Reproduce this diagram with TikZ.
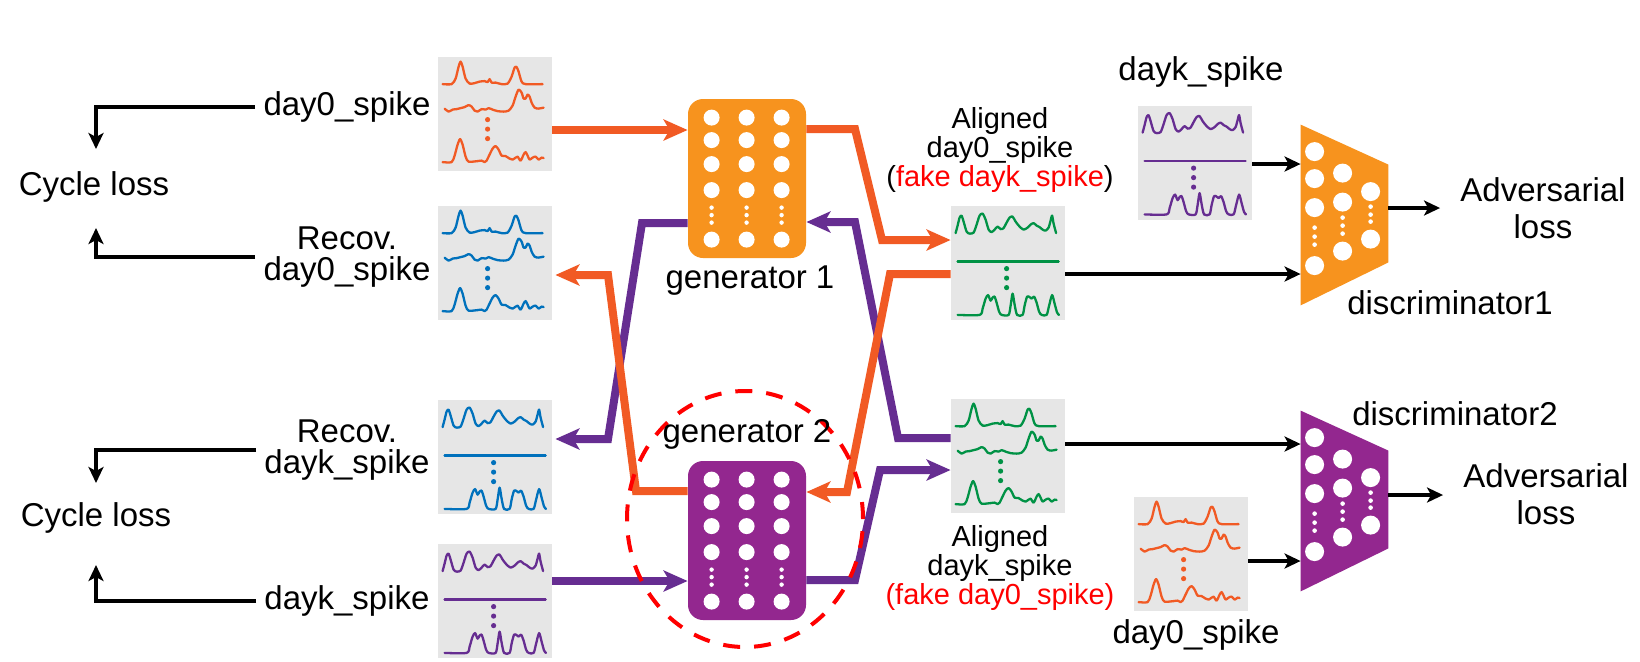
\documentclass[tikz,border=0pt]{standalone}
\usepackage{fontspec}
\setmainfont{Liberation Sans}
\usetikzlibrary{arrows.meta,calc}
\definecolor{orng}{HTML}{F15A24}
\definecolor{blu}{HTML}{0071BC}
\definecolor{purp}{HTML}{662D91}
\definecolor{grn}{HTML}{009245}
\definecolor{genor}{HTML}{F7931E}
\definecolor{genpu}{HTML}{93278F}
\definecolor{pgray}{HTML}{E6E6E6}
\definecolor{fakered}{HTML}{FF0000}
\tikzset{
  panel/.style={fill=pgray, draw=none, minimum width=57pt, minimum height=57pt, inner sep=0pt},
  genbox/.style={draw=none, minimum width=59pt, minimum height=79.5pt, inner sep=0pt, rounded corners=7.5pt},
  discbox/.style={draw=none, minimum width=43.5pt, minimum height=90pt, inner sep=0pt},
  wavestyle/.style={line width=1.15pt, line join=round, line cap=round},
  thk/.style={line width=4pt, -{Stealth[length=12pt,width=10.5pt,inset=3pt]}},
  blk/.style={line width=2pt, black, -{Stealth[length=8pt,width=7.5pt,inset=2pt]}},
  lbl/.style={font=\fontsize{16.5pt}{15.3pt}\selectfont, inner sep=0pt, align=center},
  lbls/.style={font=\fontsize{14.5pt}{14.5pt}\selectfont, inner sep=0pt, align=center},
  lbla/.style={font=\fontsize{16.5pt}{18.5pt}\selectfont, inner sep=0pt, align=center},
  reddash/.style={draw=fakered, line width=2pt, dash pattern=on 8.5pt off 7pt},
  pics/wavea/.style={code={
    \draw[wavestyle, #1] plot[smooth, tension=0.45] coordinates {(5,27.5) (14,27.5) (18,22) (21,10) (23,5) (25,10) (28,22) (32,27) (37,26.5) (42,25) (47,24.5) (50,25.5) (52,22.5) (54,26) (58,26) (64,27.5) (70,27) (74,20) (77,11) (79,10.5) (81,15) (84,25) (88,27.5) (105,27.5)};
    \draw[wavestyle, #1] plot[smooth, tension=0.45] coordinates {(7,52) (11,55) (15,53) (19,52.5) (23,51.5) (27,50.5) (31,48.5) (34,50) (37,54) (40,55) (44,52.5) (48,53) (51,51.5) (55,53) (60,54.5) (66,55) (71,54) (75,49) (78,40) (81,33) (84,36) (86,42) (88,42) (90,38) (92,40) (94,46) (97,51) (101,52) (106,51)};
    \draw[wavestyle, #1] plot[smooth, tension=0.45] coordinates {(5,105.5) (14,105.5) (17,99) (20,88) (22.5,82.5) (25,88) (28,100) (31,105) (40,104.5) (44,104) (47,105.5) (49,104) (51,100) (55,92) (58,89.5) (61,93) (64,99) (68,99.5) (72,102) (75,103) (78,101) (80,100) (83,104) (86,98) (88,95.5) (90,99) (92,103) (95,101) (98,100) (101,103) (104,101) (106,101.5)};
    \fill[#1] (50,63) circle[radius=1.3pt] (50,72.5) circle[radius=1.3pt] (50,82) circle[radius=1.3pt];
  }},
  pics/waveb/.style={code={
    \draw[wavestyle, #1] plot[smooth, tension=0.45] coordinates {(5,27.5) (7,20) (9,12) (11,10) (13,16) (16,26) (19,28) (23,27) (26,19) (29,10) (32,8) (35,14) (38,24) (41,26.5) (44,24) (47,21) (50,23.5) (53,22.5) (56,17) (59,12) (62,11) (65,16) (69,21) (73,24) (77,22) (80,19) (83,17.5) (86,20) (89,21.5) (92,24) (95,25) (98,22) (100,15) (101.5,10) (103,18) (105.5,27.5)};
    \draw[wavestyle, #1] (7,56) -- (108,56);
    \draw[wavestyle, #1] plot[smooth, tension=0.45] coordinates {(7,109.3) (29,109.3) (32,103) (35,93) (37.5,89.5) (40,95) (42,92) (44,91) (46,97) (48.5,106) (51,109.3) (58,109.3) (60,100) (62,88) (64,99) (66.5,109.3) (72,109.3) (74,100) (76.5,91) (79,91.5) (81,93) (83.5,91) (86,97) (88.5,106) (91,109.3) (96,109.3) (98.5,100) (101.5,89.5) (104,98) (106.5,107) (108.5,109.3)};
    \fill[#1] (56,63) circle[radius=1.3pt] (56,72.5) circle[radius=1.3pt] (56,82) circle[radius=1.3pt];
  }},
  pics/gendots/.style={code={
    \foreach \cx in {24,59,94} {
      \foreach \cy in {19,41.5,65.5,91.5,141} { \fill[white] (\cx,\cy) circle[radius=4pt]; }
      \foreach \cy in {109,116.5,124} { \fill[white] (\cx,\cy) circle[radius=1.1pt]; }
    }
  }},
  pics/discdots/.style={code={
    \foreach \cy in {27,54,83,141} { \fill[white] (14,\cy) circle[radius=4.75pt]; }
    \foreach \cy in {103,112,120} { \fill[white] (14,\cy) circle[radius=1.15pt]; }
    \foreach \cy in {48.5,77.5,126.5} { \fill[white] (42,\cy) circle[radius=4.75pt]; }
    \foreach \cy in {93,101,109} { \fill[white] (42,\cy) circle[radius=1.15pt]; }
    \foreach \cy in {67,114.5} { \fill[white] (70,\cy) circle[radius=4.75pt]; }
    \foreach \cy in {82,90,97} { \fill[white] (70,\cy) circle[radius=1.15pt]; }
  }}
}
\begin{document}
\begin{tikzpicture}[x=0.5pt,y=-0.5pt]
\useasboundingbox (0,0) rectangle (1640,661);
\fill[white] (0,0) rectangle (1640,661);

% panels
\node[panel] (p1) at (495,114) {};
\node[panel] (p2) at (495,263) {};
\node[panel] (p3) at (495,457) {};
\node[panel] (p4) at (495,601) {};
\node[panel] (p5) at (1008,263) {};
\node[panel] (p6) at (1008,456) {};
\node[panel] (p7) at (1195,162.5) {};
\node[panel] (p8) at (1191,554) {};
\pic at (p1.north west) {wavea=orng};
\pic at (p2.north west) {wavea=blu};
\pic at (p3.north west) {waveb=blu};
\pic at (p4.north west) {waveb=purp};
\pic at (p5.north west) {waveb=grn};
\pic at (p6.north west) {wavea=grn};
\pic at (p7.north west) {waveb=purp};
\pic at (p8.north west) {wavea=orng};

% generators
\node[genbox, fill=genor] (g1) at (747,178.5) {};
\node[genbox, fill=genpu] (g2) at (747,540.5) {};
\pic at (g1.north west) {gendots};
\pic at (g2.north west) {gendots};

% discriminators
\node[discbox] (d1) at (1344.5,215) {};
\node[discbox] (d2) at (1344.5,501) {};
\fill[genor] (d1.north west) -- ($(d1.north east)+(0,40)$) -- ($(d1.south east)+(0,-43)$) -- (d1.south west) -- cycle;
\fill[genpu] (d2.north west) -- ($(d2.north east)+(0,40)$) -- ($(d2.south east)+(0,-43)$) -- (d2.south west) -- cycle;
\pic at (d1.north west) {discdots};
\pic at (d2.north west) {discdots};

% thick connectors: purple
\draw[thk, purp] (p6.west |- 0,438) -- (898,438) -- (855,222) -- (g1.east |- 0,222);
\draw[thk, purp] (g2.east |- 0,580) -- (855,580) -- (880,470) -- (p6.west |- 0,470);
\draw[thk, purp] (g1.west |- 0,223) -- (642,223) -- (608,439) -- ([xshift=1.5pt]p3.east |- 0,439);
\draw[thk, purp] (p4.east |- 0,581) -- (g2.west |- 0,581);
% thick connectors: orange
\draw[thk, orng] (p1.east |- 0,130) -- (g1.west |- 0,130);
\draw[thk, orng] (g1.east |- 0,129) -- (855,129) -- (882,240) -- (p5.west |- 0,240);
\draw[thk, orng] (p5.west |- 0,274) -- (890,274) -- (847,492) -- (g2.east |- 0,492);
\draw[thk, orng] (g2.west |- 0,491) -- (636,491) -- (608,275) -- ([xshift=1.5pt]p2.east |- 0,275);

% black connectors
\draw[blk] (p7.east |- 0,164) -- (d1.west |- 0,164);
\draw[blk] (p5.east |- 0,274) -- (d1.west |- 0,274);
\draw[blk] (p6.east |- 0,444) -- (d2.west |- 0,444);
\draw[blk] (p8.east |- 0,561) -- (d2.west |- 0,561);

% dashed ellipse
\draw[reddash] (745,519) ellipse [x radius=59pt, y radius=64pt];

% labels
\node[lbl] (lblA) at (347,107) {day0\_spike};
\node[lbl] (recA) at (347,257) {Recov.\\day0\_spike};
\node[lbl] (recB) at (347,450) {Recov.\\dayk\_spike};
\node[lbl] (lblB) at (347,601) {dayk\_spike};
\node[lbl] (cyc1) at (94,187) {Cycle loss};
\node[lbl] (cyc2) at (96,518) {Cycle loss};
\node[lbl] (gl1) at (750,281) {generator 1};
\node[lbl] (gl2) at (747,434) {generator 2};
\node[lbls] (al1) at (1000,150) {Aligned\\day0\_spike\\(\textcolor{fakered}{fake dayk\_spike})};
\node[lbls] (al2) at (1000,568) {Aligned\\dayk\_spike\\\textcolor{fakered}{(fake day0\_spike)}};
\node[lbl] (dk) at (1201,72) {dayk\_spike};
\node[lbl] (d0) at (1196,635) {day0\_spike};
\node[lbla] (adv1) at (1543,208) {Adversarial\\loss};
\node[lbla] (adv2) at (1546,494) {Adversarial\\loss};
\node[lbl] (dl1) at (1450,303) {discriminator1};
\node[lbl] (dl2) at (1455,414) {discriminator2};

\draw[blk, shorten >=10pt] (d1.east |- 0,208) -- (adv1.west |- 0,208);
\draw[blk, shorten >=10pt] (d2.east |- 0,495) -- (adv2.west |- 0,495);

% cycle loss connectors
\coordinate (t1) at (96,149);
\coordinate (t2) at (96,228);
\coordinate (t3) at (96,483);
\coordinate (t4) at (96,565);
\draw[blk] ([xshift=-4pt]lblA.west) -| (t1);
\draw[blk] ([xshift=-4pt]recA.west) -| (t2);
\draw[blk] ([xshift=-4pt]recB.west) -| (t3);
\draw[blk] ([xshift=-4pt]lblB.west) -| (t4);
\end{tikzpicture}
\end{document}
